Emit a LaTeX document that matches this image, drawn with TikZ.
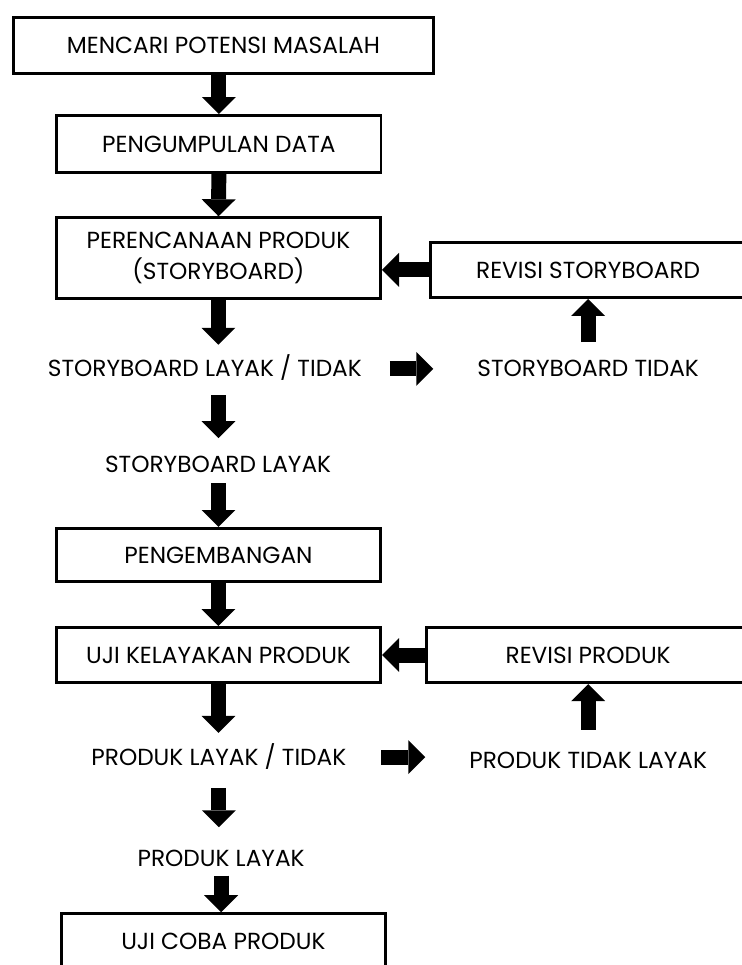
\documentclass[tikz,border=0pt]{standalone}
\usepackage{fontspec}
\setmainfont{Poppins}
\usetikzlibrary{arrows.meta, positioning}

\begin{document}
\begin{tikzpicture}[
  stage/.style={draw, line width=2.2pt, minimum width=#1, minimum height=1.46cm, inner sep=2pt, align=center, font=\fontsize{17.5}{23}\selectfont},
  stage/.default=8.58cm,
  note/.style={inner sep=0pt, text height=12pt, text depth=0pt, font=\fontsize{17.5}{23}\selectfont},
  barr/.style={line width=11.25pt, -{Triangle[length=12.75pt, width=25.5pt, line width=0pt]}},
]
  \useasboundingbox (0,0) rectangle (19.63,-25.53);
  \clip (0,0) rectangle (19.63,-25.53);

  \node[stage=11.11cm, minimum height=1.48cm] (potensi) at (5.91,-1.20) {MENCARI POTENSI MASALAH};
  \node[stage, minimum height=1.51cm] (data) at (5.79,-3.81) {PENGUMPULAN DATA};
  \node[stage, minimum height=2.14cm] (rencana) at (5.78,-6.83) {PERENCANAAN PRODUK\\(STORYBOARD)};
  \node[stage=8.33cm] (revsb) at (15.56,-7.14) {REVISI STORYBOARD};
  \node[note] (sblt) at (5.42,-9.76) {STORYBOARD LAYAK / TIDAK};
  \node[note] (sbt) at (15.56,-9.76) {STORYBOARD TIDAK};
  \node[note] (sbl) at (5.77,-12.30) {STORYBOARD LAYAK};
  \node[stage, minimum height=1.40cm] (kembang) at (5.78,-14.68) {PENGEMBANGAN};
  \node[stage] (ujilayak) at (5.78,-17.33) {UJI KELAYAKAN PRODUK};
  \node[stage=8.54cm] (revpr) at (15.56,-17.33) {REVISI PRODUK};
  \node[note] (plt) at (5.79,-20.03) {PRODUK LAYAK / TIDAK};
  \node[note] (ptl) at (15.56,-20.11) {PRODUK TIDAK LAYAK};
  \node[note] (pl) at (5.85,-22.70) {PRODUK LAYAK};
  \node[stage] (ujicoba) at (5.91,-24.90) {UJI COBA PRODUK};

  % main column
  \draw[barr] (potensi.south -| data) -- (data.north);
  \draw[barr] (data.south) -- (rencana.north);
  \draw[barr, shorten >=12pt] (rencana.south) -- (rencana.south |- sblt.north);
  \draw[barr, shorten <=13.5pt, shorten >=14pt] (rencana.south |- sblt.south) -- (rencana.south |- sbl.north);
  \draw[barr, shorten <=7.5pt] (rencana.south |- sbl.south) -- (kembang.north);
  \draw[barr] (kembang.south) -- (ujilayak.north);
  \draw[barr, shorten >=12pt] (ujilayak.south) -- (ujilayak.south |- plt.north);
  \draw[barr, shorten <=17pt, shorten >=17pt] (plt.south) -- (plt.south |- pl.north);
  \draw[barr, shorten <=7pt] (pl.south) -- (pl.south |- ujicoba.north);

  % revision loops
  \draw[barr] (revsb.west) -- (revsb.west -| rencana.east);
  \draw[barr, shorten <=21pt, shorten >=33pt] (sblt.east) -- (sbt.west);
  \draw[barr, shorten <=14pt] (sbt.north) -- (revsb.south);
  \draw[barr] (revpr.west) -- (revpr.west -| ujilayak.east);
  \draw[barr, shorten <=26pt, shorten >=33pt] (plt.east) -- (plt.east -| ptl.west);
  \draw[barr, shorten <=16.5pt] (ptl.north) -- (revpr.south);
\end{tikzpicture}
\end{document}
